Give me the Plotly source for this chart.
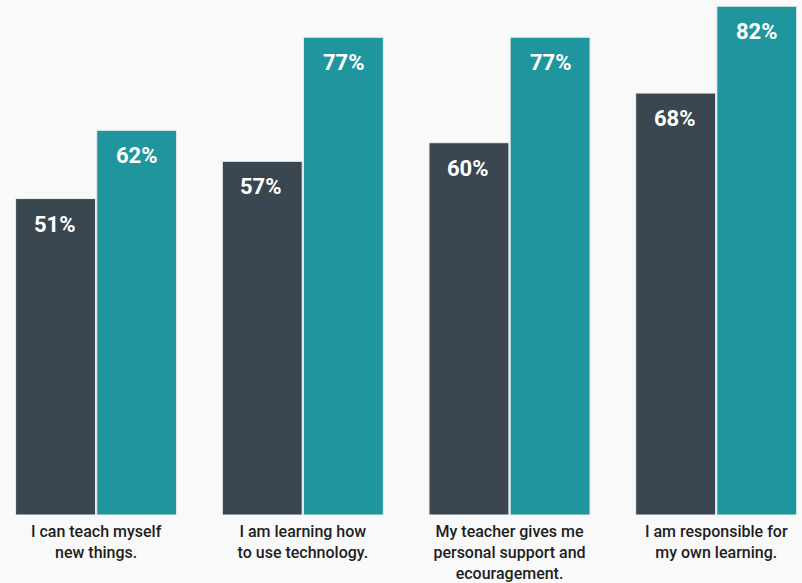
import plotly.graph_objects as go

categories = [
    "I can teach myself<br>new things.",
    "I am learning how<br>to use technology.",
    "My teacher gives me<br>personal support and<br>ecouragement.",
    "I am responsible for<br>my own learning.",
]
series_a = [51, 57, 60, 68]
series_b = [62, 77, 77, 82]
dark = "#3a4751"
teal = "#1f969e"
bg = "#f9f9f9"

xs = list(range(len(categories)))
fig = go.Figure()
fig.add_trace(go.Bar(x=xs, y=series_a, marker=dict(color=dark, line=dict(color="#eeeeee", width=1)), showlegend=False, hoverinfo="skip"))
fig.add_trace(go.Bar(x=xs, y=series_b, marker=dict(color=teal, line=dict(color="#eeeeee", width=1)), showlegend=False, hoverinfo="skip"))

annotations = []
for i in xs:
    for vals, shift in ((series_a, -41.5), (series_b, 41)):
        annotations.append(dict(
            x=i, y=vals[i], xref="x", yref="y", text=f"{vals[i]}%",
            showarrow=False, xshift=shift, yshift=-11, yanchor="top",
            font=dict(family="Roboto", size=22, color="white", weight="bold"),
        ))

fig.update_layout(
    width=802, height=583,
    margin=dict(l=0, r=0, t=0, b=66),
    paper_bgcolor=bg, plot_bgcolor=bg,
    barmode="group", bargap=0.215, bargroupgap=0.015,
    xaxis=dict(range=[-0.465, 3.415], tickvals=xs, ticktext=categories, showgrid=False,
               zeroline=False, showline=False, ticks="", ticklabelstandoff=5,
               tickfont=dict(family="Roboto", size=16, color="#1e1e1e", weight=500)),
    yaxis=dict(range=[0, 83], visible=False, showgrid=False, zeroline=False),
    annotations=annotations,
)
fig.write_html(
    "out.html",
    config={"displayModeBar": False},
    post_script="document.body.style.margin='0';document.body.style.background='#f9f9f9';",
)
